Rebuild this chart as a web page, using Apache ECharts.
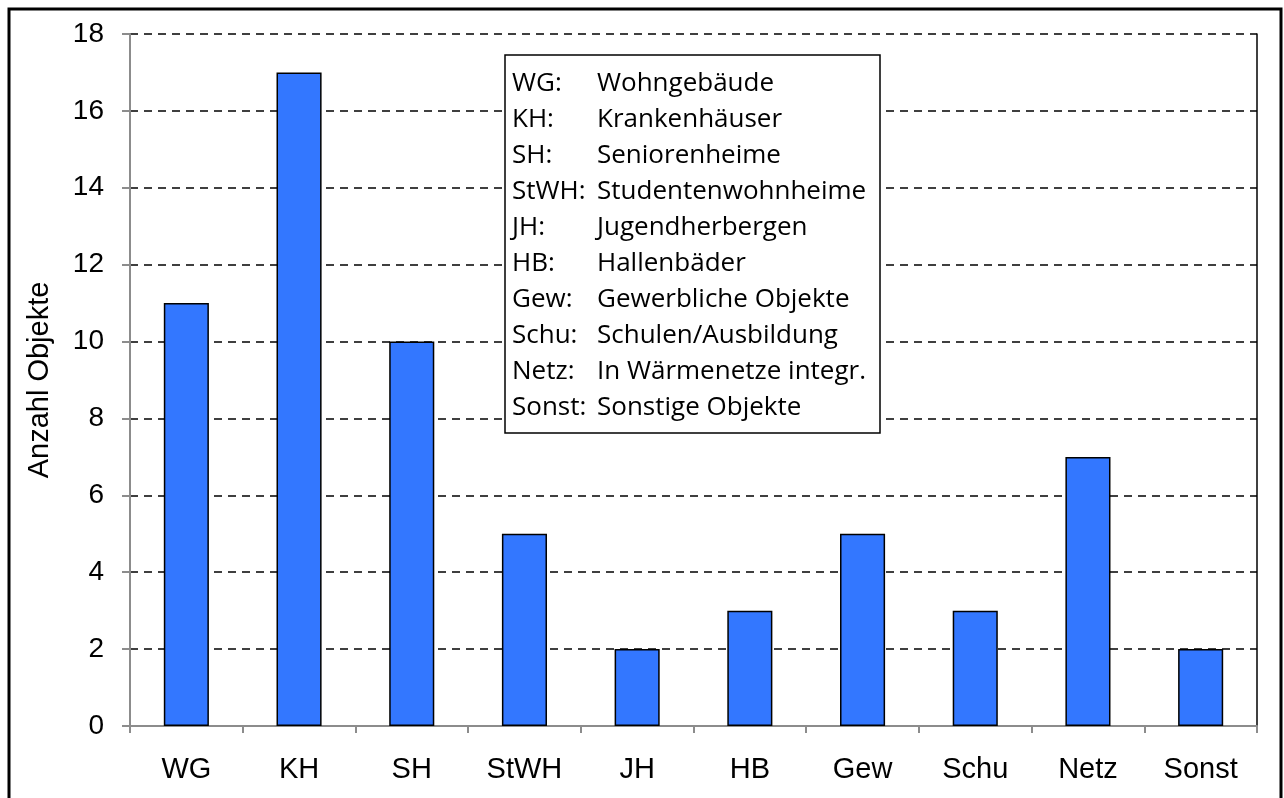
<!DOCTYPE html>
<html>
<head>
<meta charset="utf-8">
<script src="https://cdn.jsdelivr.net/npm/echarts@6/dist/echarts.min.js"></script>
<style>
  html, body { margin: 0; padding: 0; background: #fff; }
  #chart { width: 1284px; height: 798px; }
</style>
</head>
<body>
<div id="chart"></div>
<script>
let categories = ['WG', 'KH', 'SH', 'StWH', 'JH', 'HB', 'Gew', 'Schu', 'Netz', 'Sonst'];
let counts = [11, 17, 10, 5, 2, 3, 5, 3, 7, 2];
let legendAbbr = ['WG:', 'KH:', 'SH:', 'StWH:', 'JH:', 'HB:', 'Gew:', 'Schu:', 'Netz:', 'Sonst:'];
let legendDesc = ['Wohngebäude', 'Krankenhäuser', 'Seniorenheime', 'Studentenwohnheime', 'Jugendherbergen',
                  'Hallenbäder', 'Gewerbliche Objekte', 'Schulen/Ausbildung', 'In Wärmenetze integr.', 'Sonstige Objekte'];

let map = echarts.init(document.getElementById('chart'));

// Erklärungskasten
let boxItems = [];
boxItems.push({
  type: 'rect', z: 100,
  shape: { x: 505, y: 55, width: 375, height: 378 },
  style: { fill: '#fff', stroke: '#000', lineWidth: 1.5 }
});
for (let i = 0; i < legendAbbr.length; i++) {
  let y = 84 + i * 36;
  boxItems.push({
    type: 'text', x: 512, y: y, z: 101,
    style: { text: legendAbbr[i], font: '26px "Open Sans"', fill: '#000', verticalAlign: 'middle' }
  });
  boxItems.push({
    type: 'text', x: 597, y: y, z: 101,
    style: { text: legendDesc[i], font: '26px "Open Sans"', fill: '#000', verticalAlign: 'middle' }
  });
}

let option = {
  backgroundColor: '#fff',
  animation: false,
  grid: { left: 130, right: 27, top: 34, bottom: 72, containLabel: false },
  xAxis: {
    type: 'category',
    data: categories,
    axisLine: { lineStyle: { color: '#8c8c8c', width: 2 } },
    axisTick: { show: true, length: 7, lineStyle: { color: '#8c8c8c', width: 2 } },
    axisLabel: { color: '#000', fontFamily: 'Arial, Liberation Sans', fontSize: 29, margin: 29 }
  },
  yAxis: [{
    type: 'value',
    min: 0, max: 18, interval: 2,
    name: 'Anzahl Objekte',
    nameLocation: 'middle',
    nameGap: 76,
    nameTextStyle: { color: '#000', fontFamily: 'Arial, Liberation Sans', fontSize: 29 },
    axisLine: { show: true, lineStyle: { color: '#8c8c8c', width: 2 } },
    axisTick: { show: true, length: 8, lineStyle: { color: '#8c8c8c', width: 2 } },
    axisLabel: { color: '#000', fontFamily: 'Arial, Liberation Sans', fontSize: 28, margin: 26 },
    splitLine: { show: true, lineStyle: { color: '#000', type: [8, 6], width: 1.5 } }
  }, {
    type: 'value',
    position: 'right',
    min: 0, max: 18, interval: 2,
    axisLine: { show: true, lineStyle: { color: '#000', width: 1.5 } },
    axisTick: { show: false },
    axisLabel: { show: false },
    splitLine: { show: false }
  }],
  series: [{
    type: 'bar',
    data: counts,
    barWidth: '40%',
    itemStyle: { color: '#3377ff', borderColor: '#000', borderWidth: 1.5 }
  }],
  graphic: [{
    type: 'rect', z: 100,
    shape: { x: 9, y: 9, width: 1272, height: 820 },
    style: { fill: 'none', stroke: '#000', lineWidth: 3 },
    silent: true
  }, {
    type: 'group',
    children: boxItems
  }]
};

map.setOption(option);
</script>
</body>
</html>
